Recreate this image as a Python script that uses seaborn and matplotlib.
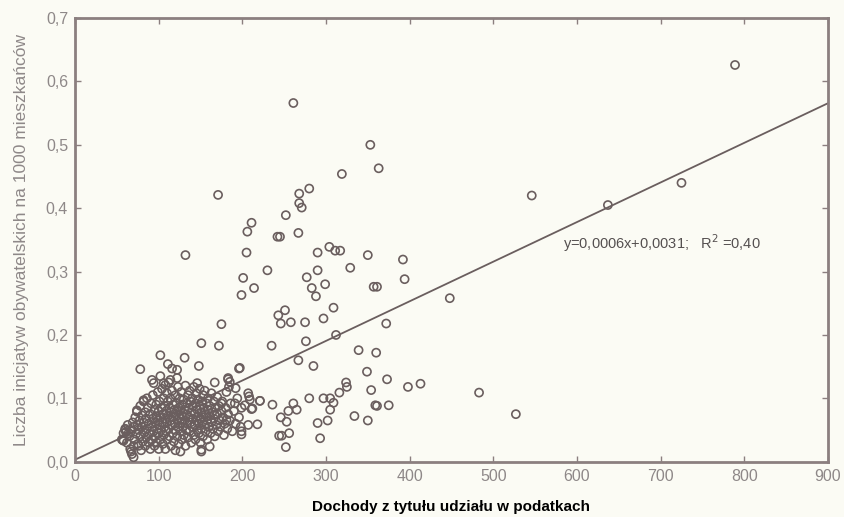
import matplotlib
matplotlib.use("Agg")
import matplotlib.pyplot as plt
import seaborn as sns
import numpy as np
import pandas as pd

# ---- data ----
outlier_x = [261, 789, 171, 132, 353, 363, 319, 280, 268, 268, 271, 252, 267, 245, 290, 304, 311, 317,
             350, 392, 546, 725, 637, 211, 206, 242, 205, 230, 201, 214, 199, 277, 290, 283, 288, 251,
             243, 246, 258, 275, 175, 276, 151, 172, 235, 329, 394, 299, 357, 361, 309, 297, 372, 312,
             448, 267, 285, 339, 360, 349, 373, 324, 325, 398, 413, 354, 316, 483, 280, 297, 305, 309,
             305, 359, 361, 375, 261, 255, 265, 334, 350, 527, 290, 302, 253, 256, 293, 252, 247, 197,
             207, 208, 221, 236, 203, 211, 246, 207, 218, 199, 244, 102, 131, 78, 148, 196, 111, 116,
             122, 122, 167, 183, 192, 146, 92, 94, 102, 108, 82, 58, 61, 70, 67, 76, 151, 126, 185,
             183, 184, 209, 212, 221, 181, 167, 151, 161, 175, 191, 199, 114, 106, 74, 60, 64, 57]
outlier_y = [0.566, 0.626, 0.421, 0.326, 0.500, 0.463, 0.454, 0.431, 0.423, 0.408, 0.401, 0.389, 0.361,
             0.355, 0.330, 0.339, 0.333, 0.333, 0.326, 0.319, 0.420, 0.440, 0.405, 0.377, 0.363, 0.355,
             0.330, 0.302, 0.290, 0.274, 0.263, 0.291, 0.302, 0.274, 0.261, 0.239, 0.231, 0.218, 0.220,
             0.220, 0.217, 0.190, 0.187, 0.183, 0.183, 0.306, 0.288, 0.280, 0.276, 0.276, 0.243, 0.226,
             0.218, 0.200, 0.258, 0.160, 0.151, 0.176, 0.172, 0.142, 0.130, 0.125, 0.118, 0.118, 0.123,
             0.113, 0.109, 0.109, 0.100, 0.100, 0.100, 0.093, 0.082, 0.089, 0.088, 0.089, 0.092, 0.080,
             0.082, 0.072, 0.065, 0.075, 0.061, 0.065, 0.063, 0.045, 0.037, 0.023, 0.041, 0.148, 0.108,
             0.103, 0.096, 0.090, 0.089, 0.083, 0.070, 0.058, 0.059, 0.048, 0.041, 0.168, 0.164, 0.146,
             0.151, 0.147, 0.154, 0.147, 0.145, 0.132, 0.125, 0.132, 0.116, 0.124, 0.129, 0.124, 0.135,
             0.121, 0.097, 0.033, 0.047, 0.007, 0.016, 0.025, 0.016, 0.016, 0.126, 0.130, 0.118, 0.098,
             0.084, 0.096, 0.066, 0.074, 0.019, 0.024, 0.092, 0.092, 0.043, 0.129, 0.124, 0.079, 0.050,
             0.045, 0.034]

cluster_x = [56, 58, 60, 62, 63, 65, 66, 67, 68, 69, 70, 70,
             71, 72, 73, 74, 75, 75, 76, 77, 78, 78, 79, 80, 80, 81, 82, 82, 83, 84, 84, 85, 85, 86, 86, 87, 88,
             88, 89, 90, 90, 91, 92, 92, 93, 93, 94, 95, 95, 96, 96, 97, 97, 98, 98, 99, 99, 100, 100, 100,
             101, 101, 102, 102, 103, 103, 104, 104, 105, 105, 106, 106,
             107, 107, 108, 108, 109, 109, 110, 110, 110, 111, 111, 112, 112, 113, 113, 114, 114, 115, 115,
             116, 116, 117, 117, 118, 118, 119, 119, 120, 120, 120,
             121, 121, 122, 122, 123, 123, 124, 124, 125, 125, 126, 126, 127, 127, 128, 128, 129, 129, 130,
             130, 131, 131, 132, 132, 133, 133, 134, 134, 135, 135,
             136, 136, 137, 137, 138, 138, 139, 139, 140, 140, 141, 141, 142, 142, 143, 143, 144, 144, 145,
             145, 146, 146, 147, 147, 148, 148, 149, 149, 150, 150,
             151, 151, 152, 152, 153, 153, 154, 154, 155, 155, 156, 156, 157, 158, 158, 159, 159, 160, 161,
             161, 162, 163, 163, 164, 165,
             166, 166, 167, 168, 169, 170, 170, 171, 172, 173, 174, 175, 176, 177, 178, 179, 180,
             181, 182, 183, 185, 186, 188, 190, 192, 194, 196, 198, 199]
cluster_y = [0.035, 0.045, 0.052, 0.030, 0.058, 0.040, 0.020, 0.048, 0.012, 0.062, 0.025, 0.055,
             0.035, 0.070, 0.044, 0.081, 0.028, 0.058, 0.050, 0.065, 0.040, 0.088, 0.018, 0.073, 0.055,
             0.032, 0.062, 0.095, 0.046, 0.078, 0.025, 0.068, 0.038, 0.052, 0.100, 0.085, 0.030,
             0.060, 0.044, 0.075, 0.020, 0.092, 0.055, 0.035, 0.068, 0.105, 0.048, 0.082, 0.025, 0.062,
             0.040, 0.090, 0.072, 0.052, 0.030, 0.110, 0.065, 0.080, 0.045, 0.020, 0.058, 0.095, 0.070,
             0.035, 0.085, 0.050, 0.115, 0.062, 0.028, 0.075, 0.042, 0.100,
             0.055, 0.088, 0.068, 0.020, 0.080, 0.048, 0.108, 0.062, 0.035, 0.095, 0.072, 0.052, 0.125,
             0.085, 0.040, 0.065, 0.100, 0.078, 0.025, 0.058, 0.112, 0.090, 0.045, 0.070, 0.032, 0.082,
             0.060, 0.105, 0.050, 0.018,
             0.075, 0.092, 0.040, 0.066, 0.118, 0.055, 0.085, 0.028, 0.070, 0.100, 0.048, 0.080, 0.062,
             0.110, 0.035, 0.090, 0.072, 0.055, 0.098, 0.042, 0.082, 0.065, 0.120, 0.025, 0.075, 0.050,
             0.092, 0.060, 0.105, 0.038,
             0.070, 0.085, 0.048, 0.112, 0.062, 0.095, 0.078, 0.030, 0.055, 0.100, 0.088, 0.068, 0.042,
             0.118, 0.075, 0.058, 0.092, 0.035, 0.065, 0.108, 0.082, 0.050, 0.072, 0.098, 0.045, 0.060,
             0.088, 0.115, 0.068, 0.030,
             0.078, 0.052, 0.095, 0.062, 0.105, 0.040, 0.085, 0.070, 0.058, 0.112, 0.075, 0.048, 0.092,
             0.065, 0.035, 0.082, 0.100, 0.055, 0.072, 0.088, 0.045, 0.062, 0.108, 0.078, 0.052,
             0.095, 0.068, 0.040, 0.085, 0.058, 0.075, 0.102, 0.048, 0.088, 0.065, 0.055, 0.080, 0.095,
             0.070, 0.042, 0.060, 0.085,
             0.110, 0.052, 0.075, 0.065, 0.092, 0.048, 0.080, 0.060, 0.100, 0.070, 0.055, 0.085]

fit_slope = 0.000625
fit_intercept = 0.0031
fit_range = [0, 900]
fit_label = r"y=0,0006x+0,0031;   R$^2$ =0,40"

x_ticks = [0, 100, 200, 300, 400, 500, 600, 700, 800, 900]
x_tick_labels = ["0", "100", "200", "300", "400", "500", "600", "700", "800", "900"]
y_ticks = [0.0, 0.1, 0.2, 0.3, 0.4, 0.5, 0.6, 0.7]
y_tick_labels = ["0,0", "0,1", "0,2", "0,3", "0,4", "0,5", "0,6", "0,7"]
x_label = "Dochody z tytułu udziału w podatkach"
y_label = "Liczba inicjatyw obywatelskich na 1000 mieszkańców"

df = pd.DataFrame({"x": outlier_x + cluster_x, "y": outlier_y + cluster_y})
fit_df = pd.DataFrame({"x": fit_range,
                       "y": [fit_intercept + fit_slope * v for v in fit_range]})

# ---- style ----
sns.set_theme(style="white")
plt.rcParams["font.family"] = ["Liberation Sans", "DejaVu Sans"]
bg = "#fbfbf4"
ink = "#6a5e5e"
spine_c = "#8b7f7f"
tick_c = "#8e8888"

fig = plt.figure(figsize=(8.44, 5.17), dpi=100, facecolor=bg)
ax = fig.add_axes([0.0889, 0.107, 0.892, 0.858])
ax.set_facecolor(bg)

sns.lineplot(data=fit_df, x="x", y="y", ax=ax, color=ink, linewidth=1.3, zorder=2)
sns.scatterplot(data=df, x="x", y="y", ax=ax, marker="o", s=34,
                facecolors="none", edgecolor=ink, linewidth=1.2, zorder=3)

ax.set_xlim(0, 900)
ax.set_ylim(0, 0.7)
ax.set_xticks(x_ticks)
ax.set_xticklabels(x_tick_labels)
ax.set_yticks(y_ticks)
ax.set_yticklabels(y_tick_labels)
ax.tick_params(axis="both", which="both", direction="in", length=4, width=1.0,
               color=spine_c, labelcolor=tick_c, labelsize=11.5,
               top=True, right=True, bottom=True, left=True, pad=5)

for s in ax.spines.values():
    s.set_color(spine_c)
    s.set_linewidth(2.0)

ax.set_xlabel(x_label, fontsize=11, fontweight="bold", color="black", labelpad=12)
ax.set_ylabel(y_label, fontsize=12.5, color=tick_c, labelpad=12)

ax.text(583, 0.345, fit_label, fontsize=10.5, color="#555050", va="center", ha="left")

fig.savefig("out.png", dpi=100, facecolor=bg)
